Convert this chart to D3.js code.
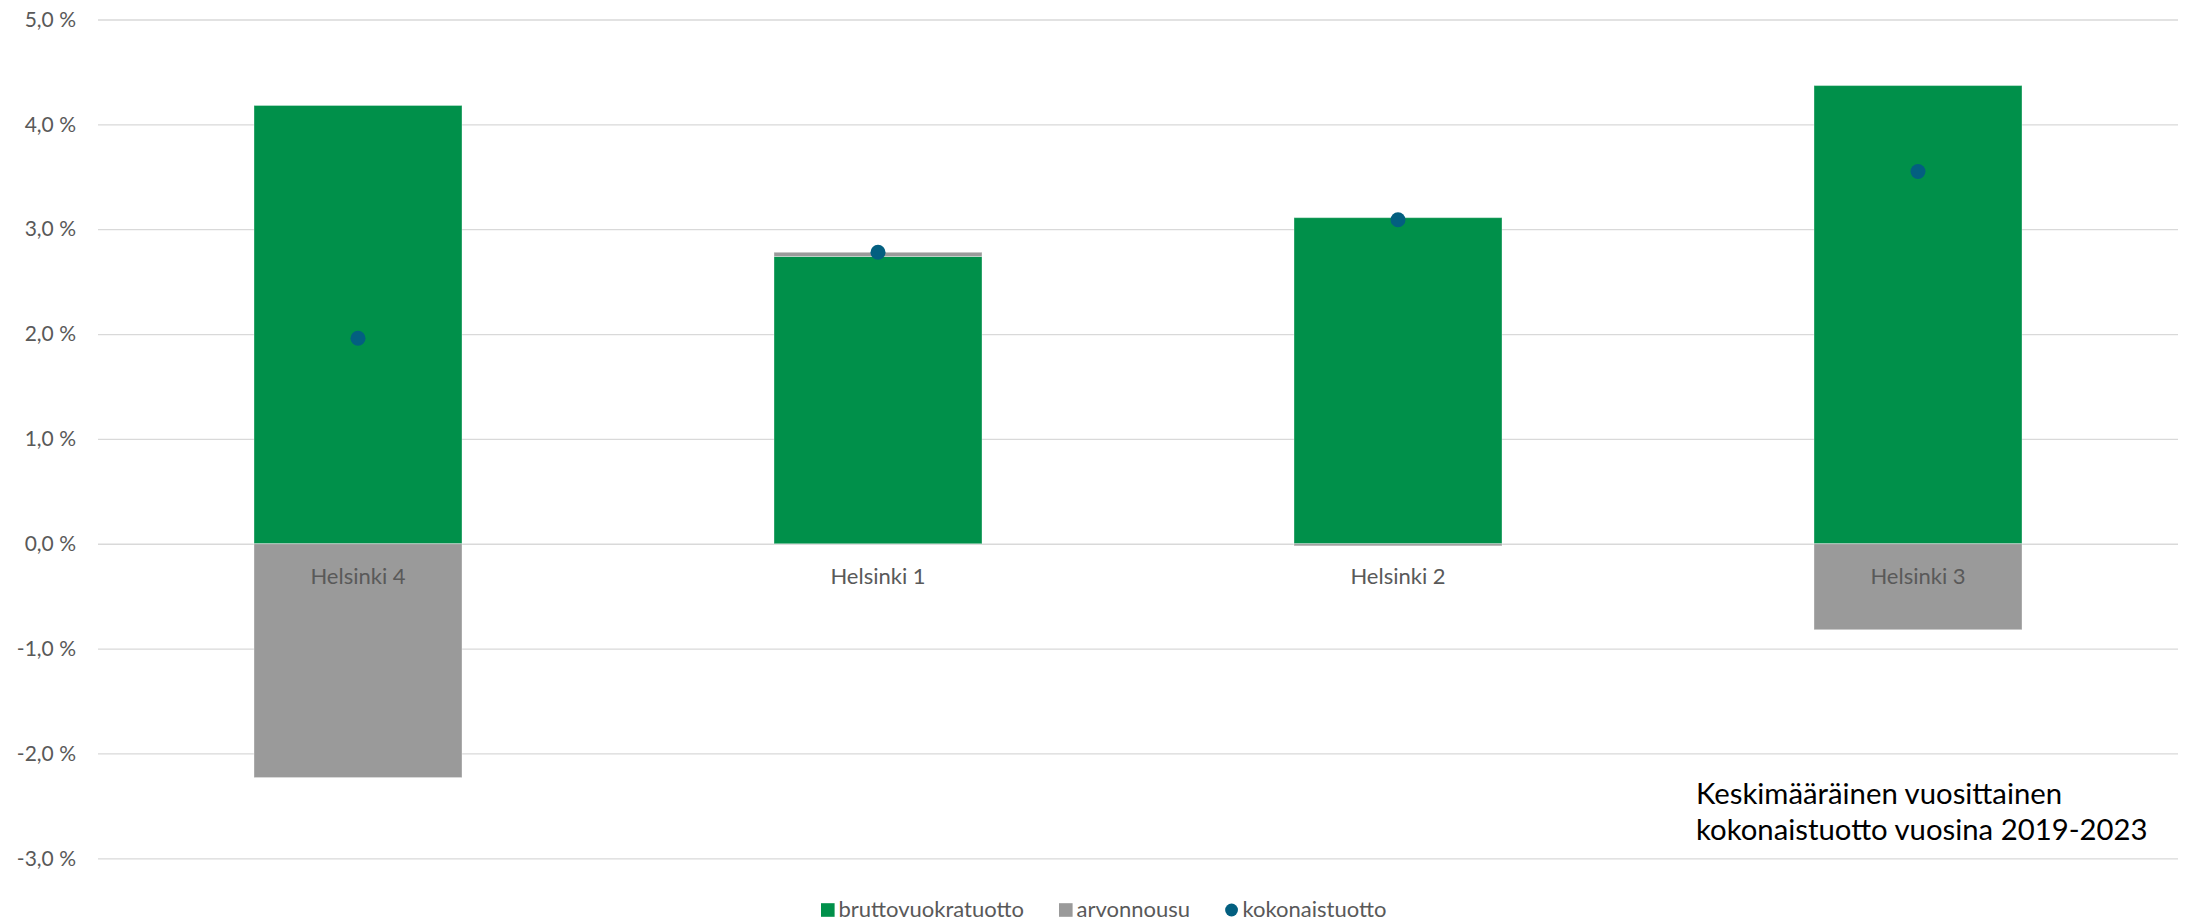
<!DOCTYPE html>
<html>
<head>
<meta charset="utf-8">
<script src="https://cdn.jsdelivr.net/npm/d3@7"></script>
<style>
  html, body { margin: 0; padding: 0; background: #fff; }
  svg { display: block; font-family: Lato, "Open Sans", sans-serif; }
</style>
</head>
<body>
<svg id="chart" width="2188" height="922"></svg>
<script>
// Alueet (kategoriat)
const categories = ["Helsinki 4", "Helsinki 1", "Helsinki 2", "Helsinki 3"];
// Sarjat, % vuodessa
const bruttovuokratuotto = [4.18, 2.74, 3.11, 4.37];
const arvonnousu = [-2.23, 0.04, -0.02, -0.82];
const kokonaistuotto = [1.96, 2.78, 3.09, 3.55];
// Y-akselin jaotus
const yTicks = [-3, -2, -1, 0, 1, 2, 3, 4, 5];
const seriesNames = ["bruttovuokratuotto", "arvonnousu", "kokonaistuotto"];
const titleLines = ["Keskimääräinen vuosittainen", "kokonaistuotto vuosina 2019-2023"];

const colors = { bruttovuokratuotto: "#00904a", arvonnousu: "#9a9a9a", kokonaistuotto: "#035f80" };

const svg = d3.select("#chart");
const plot = { left: 98, right: 2178, top: 19.5, bottom: 858.3 };

const fi = d3.formatLocale({ decimal: ",", thousands: " ", grouping: [3], currency: ["", " €"], minus: "-" });
const fmt = fi.format(".1f");

const x = d3.scaleBand().domain(categories).range([plot.left, plot.right])
  .paddingInner(0.6).paddingOuter(0.3);
const y = d3.scaleLinear().domain([-3, 5]).range([plot.bottom, plot.top]);

// Vaakaviivat ja y-akselin tekstit
const yAxis = d3.axisLeft(y).tickValues(yTicks)
  .tickSize(-(plot.right - plot.left)).tickPadding(22)
  .tickFormat(d => fmt(d) + " %");
const gy = svg.append("g").attr("transform", `translate(${plot.left},0)`).call(yAxis);
gy.select(".domain").remove();
gy.selectAll(".tick line").attr("stroke", "#d9d9d9").attr("stroke-width", 1.3);
gy.selectAll(".tick text").attr("fill", "#595959").attr("font-size", 21)
  .attr("font-family", "Lato, sans-serif");

// Pinotut pylväät (positiiviset ylös, negatiiviset alas)
const rows = categories.map((c, i) => ({
  cat: c, bruttovuokratuotto: bruttovuokratuotto[i], arvonnousu: arvonnousu[i]
}));
const stack = d3.stack().keys(["bruttovuokratuotto", "arvonnousu"])
  .offset(d3.stackOffsetDiverging);
const layers = stack(rows);

svg.append("g").selectAll("g").data(layers).join("g")
  .attr("fill", d => colors[d.key])
  .selectAll("rect").data(d => d).join("rect")
  .attr("x", d => x(d.data.cat))
  .attr("width", x.bandwidth())
  .attr("y", d => y(Math.max(d[0], d[1])))
  .attr("height", d => Math.abs(y(d[0]) - y(d[1])))
  .attr("stroke", "#ffffff").attr("stroke-opacity", 0.35).attr("stroke-width", 1);

// Kategorianimet nollaviivan alla
svg.append("g").selectAll("text").data(categories).join("text")
  .attr("x", d => x(d) + x.bandwidth() / 2)
  .attr("y", y(0) + 40)
  .attr("text-anchor", "middle")
  .attr("fill", "#595959").attr("font-size", 22)
  .text(d => d);

// Kokonaistuotto pisteinä
svg.append("g").selectAll("circle").data(kokonaistuotto).join("circle")
  .attr("cx", (d, i) => x(categories[i]) + x.bandwidth() / 2)
  .attr("cy", d => y(d))
  .attr("r", 7.5)
  .attr("fill", colors.kokonaistuotto);

// Otsikkoteksti oikeassa alakulmassa
svg.append("g").selectAll("text").data(titleLines).join("text")
  .attr("x", 1696)
  .attr("y", (d, i) => 804 + i * 36)
  .attr("fill", "#000").attr("font-size", 29.3)
  .text(d => d);

// Selite
const legend = svg.append("g");
let lx = 821;
const ly = 910;
seriesNames.forEach(name => {
  if (name === "kokonaistuotto") {
    legend.append("circle").attr("cx", lx + 6.5).attr("cy", ly).attr("r", 6.4)
      .attr("fill", colors[name]);
  } else {
    legend.append("rect").attr("x", lx).attr("y", ly - 6.8).attr("width", 13.6).attr("height", 13.6)
      .attr("fill", colors[name]);
  }
  const t = legend.append("text").attr("x", lx + 17.5).attr("y", ly + 7)
    .attr("fill", "#595959").attr("font-size", 22).text(name);
  lx += 17.5 + t.node().getComputedTextLength() + 35;
});
</script>
</body>
</html>
